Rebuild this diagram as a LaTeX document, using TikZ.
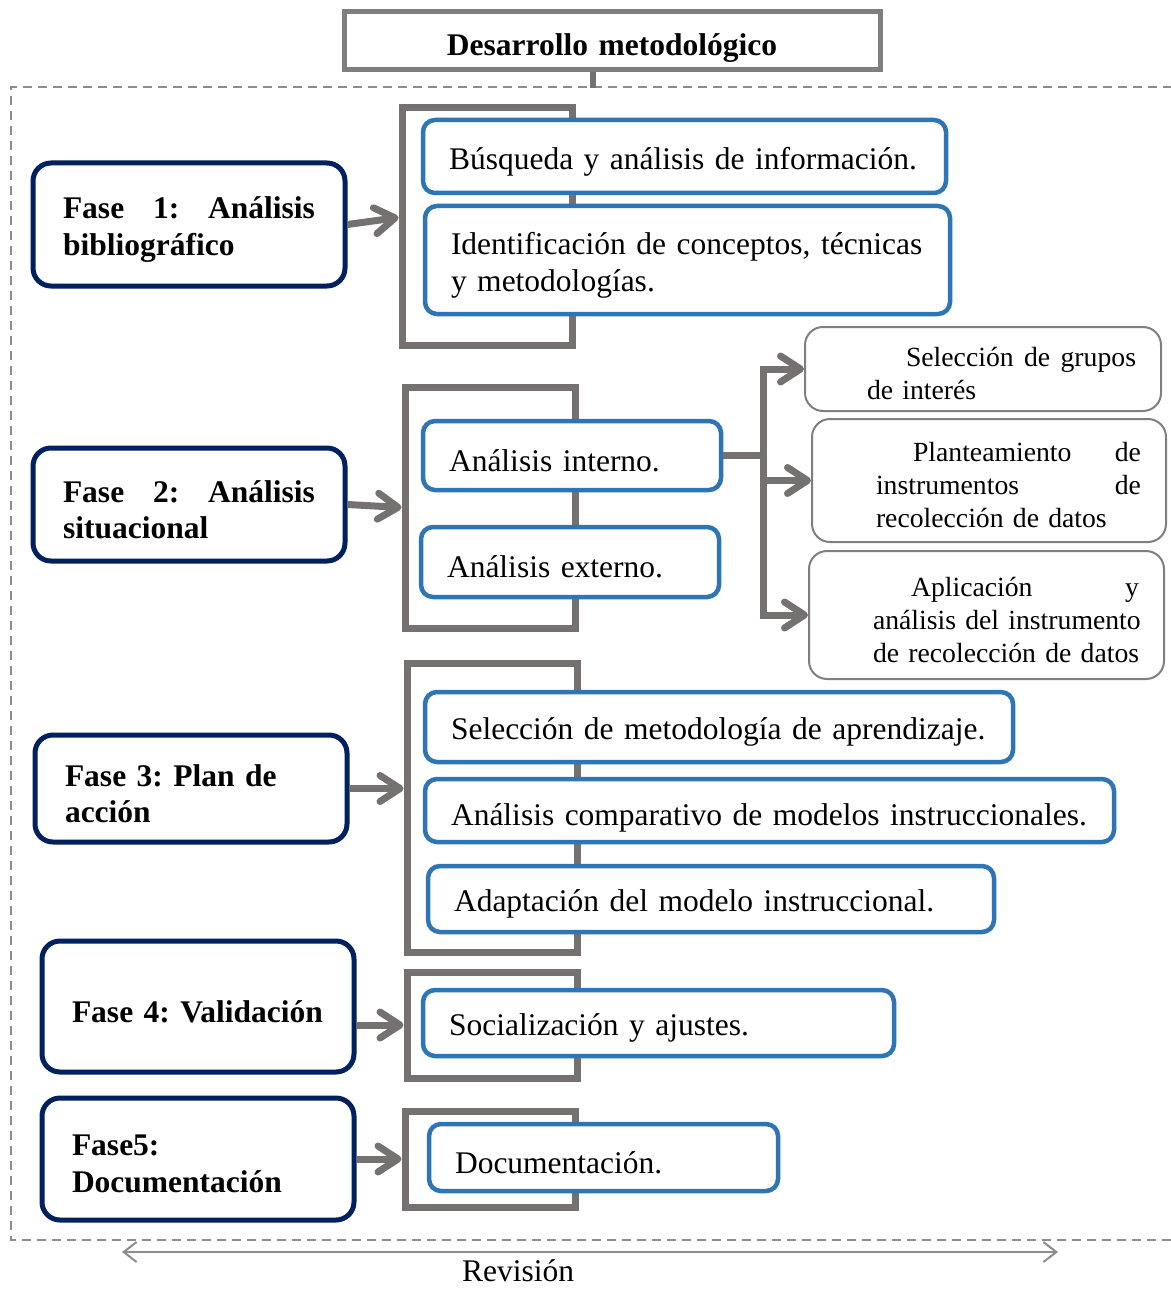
\documentclass[tikz,border=0pt]{standalone}
\usepackage{fontspec}
\setmainfont{Liberation Serif}
\usetikzlibrary{arrows.meta,calc}
\definecolor{navy}{HTML}{002060}
\definecolor{itemblue}{HTML}{2E75B6}
\definecolor{brgray}{HTML}{767171}
\definecolor{subgray}{HTML}{7F7F7F}
\definecolor{dashgray}{HTML}{8C8C8C}
\newcommand\myline[2][5pt]{\leavevmode\raisebox{-#1}[\height][\depth]{\hbox to\hsize{#2}}\par}
\frenchspacing
\begin{document}
\begin{tikzpicture}[x=1pt,y=-1pt,
  bigfont/.style={font=\fontsize{31.5pt}{37pt}\selectfont},
  titlebox/.style={draw=subgray, line width=5pt, minimum width=536pt, minimum height=58pt, inner xsep=18pt, inner ysep=0pt, text width=500pt, align=left, font=\bfseries\fontsize{31.5pt}{37pt}\selectfont},
  fase/.style={draw=navy, line width=5pt, rounded corners=18pt, fill=white, inner xsep=30pt, inner ysep=0pt, align=left, text width=252pt, minimum width=312pt, font=\bfseries\fontsize{31.5pt}{36.5pt}\selectfont},
  bracket/.style={draw=brgray, line width=7pt, inner sep=0pt, minimum width=170pt},
  item/.style={draw=itemblue, line width=4.5pt, rounded corners=12pt, fill=white, inner xsep=26pt, inner ysep=0pt, align=left, font=\fontsize{31.5pt}{37pt}\selectfont},
  sub/.style={draw=subgray, line width=2pt, rounded corners=18pt, fill=white, inner xsep=25pt, inner ysep=0pt, align=left, font=\fontsize{27.7pt}{33pt}\selectfont},
  bigarrow/.style={draw=brgray, line width=7pt, -{Straight Barb[length=20pt,width=26pt,round]}},
  revarrow/.style={draw=dashgray, line width=2pt, {Straight Barb[length=13pt,width=20pt]}-{Straight Barb[length=13pt,width=20pt]}},
  stubline/.style={draw=brgray, line width=6pt},
  dashframe/.style={draw=dashgray, line width=2.5pt, dash pattern=on 9pt off 6pt}
]
\useasboundingbox (0,0) rectangle (1170,1289);

% dashed frame
\draw[dashframe] (1172,87) -- (11,87) -- (11,1240) -- (1172,1240);

% title
\node[titlebox] (title) at (612,41) {\myline[7pt]{\hfil Desarrollo metodológico\hfil}};
\coordinate (stub) at (593,88);
\draw[stubline] (stub) -- (stub |- title.south);

% brackets
\node[bracket, minimum height=237pt] (b1) at (487,226.5) {};
\node[bracket, minimum height=241pt] (b2) at (490,507.5) {};
\node[bracket, minimum height=289pt] (b3) at (492,807.5) {};
\node[bracket, minimum height=106pt] (b4) at (492,1025) {};
\node[bracket, minimum height=96pt] (b5) at (490,1159) {};

% phases
\node[fase, minimum height=123pt] (f1) at (189,224.5) {\myline{Fase\hfill 1:\hfill Análisis}\myline{bibliográfico\hfil}};
\node[fase, minimum height=113pt] (f2) at (189,504.5) {\myline{Fase\hfill 2:\hfill Análisis}\myline{situacional\hfil}};
\node[fase, minimum height=107pt] (f3) at (191,788.5) {\myline{Fase 3: Plan de\hfil}\myline{acción\hfil}};
\node[fase, minimum height=131pt] (f4) at (198,1006.5) {\myline{Fase 4: Validación\hfil}};
\node[fase, minimum height=122pt] (f5) at (198,1159) {\myline{Fase5:\hfil}\myline{Documentación\hfil}};

% phase arrows
\draw[bigarrow] (f1.east) -- ($(b1.west)+(0,-9)$);
\draw[bigarrow] (f2.east) -- (b2.west);
\draw[bigarrow] (f3.east) -- (f3.east -| b3.west);
\draw[bigarrow] (b4.west -| f4.east) -- (b4.west);
\draw[bigarrow] (f5.east) -- (b5.west);

% items
\node[item, minimum width=523pt, minimum height=73pt, text width=471pt] (i1) at (684.5,156.5) {\myline{Búsqueda y análisis de información.\hfil}};
\node[item, minimum width=525pt, minimum height=108pt, text width=473pt] (i2) at (687.5,260) {\myline{Identificación de conceptos, técnicas\hfil}\myline{y metodologías.\hfil}};
\node[item, minimum width=298pt, minimum height=69pt, text width=246pt] (i3) at (572,455.5) {\myline{Análisis interno.\hfil}};
\node[item, minimum width=298pt, minimum height=70pt, text width=246pt] (i4) at (570,562) {\myline{Análisis externo.\hfil}};
\node[item, minimum width=588pt, minimum height=70pt, text width=536pt] (i5) at (719,727) {\myline{Selección de metodología de aprendizaje.\hfil}};
\node[item, minimum width=689pt, minimum height=63pt, text width=637pt] (i6) at (769.5,810.5) {\myline[7pt]{Análisis comparativo de modelos instruccionales.\hfil}};
\node[item, minimum width=566pt, minimum height=66pt, text width=514pt] (i7) at (711,899) {\myline{Adaptación del modelo instruccional.\hfil}};
\node[item, minimum width=471pt, minimum height=66pt, text width=419pt] (i8) at (658.5,1023) {\myline{Socialización y ajustes.\hfil}};
\node[item, minimum width=349pt, minimum height=67pt, text width=297pt] (i9) at (603.5,1157.5) {\myline{Documentación.\hfil}};

% sub boxes
\node[sub, minimum width=356pt, minimum height=84pt, text width=306pt] (r1) at (983,369)
  {\myline{\hskip76pt Selección\hfill de\hfill grupos}\myline{\hskip37pt de interés\hfil}};
\node[sub, minimum width=354pt, minimum height=123pt, text width=304pt] (r2) at (989,480.5)
  {\myline{\hskip76pt Planteamiento\hfill de}\myline{\hskip39pt instrumentos\hfill de}\myline{\hskip39pt recolección de datos\hfil}};
\node[sub, minimum width=355pt, minimum height=128pt, text width=305pt] (r3) at (986.5,615)
  {\myline{\hskip77pt Aplicación\hfill y}\myline{\hskip39pt análisis del instrumento\hfil}\myline{\hskip39pt de recolección de datos\hfil}};

% branch connector
\coordinate (jn) at (763,455.5);
\draw[draw=brgray, line width=7pt] (i3.east) -- (jn);
\draw[bigarrow] (jn) |- (r1.west);
\draw[bigarrow] (jn) |- (r2.west);
\draw[bigarrow] (jn) |- (r3.west);

% revision
\coordinate (revl) at (122,1252);
\coordinate (revr) at (1058,1252);
\draw[revarrow] (revl) -- (revr);
\node[bigfont, inner sep=0pt] (rev) at (518,1271) {Revisión};
\end{tikzpicture}
\end{document}
